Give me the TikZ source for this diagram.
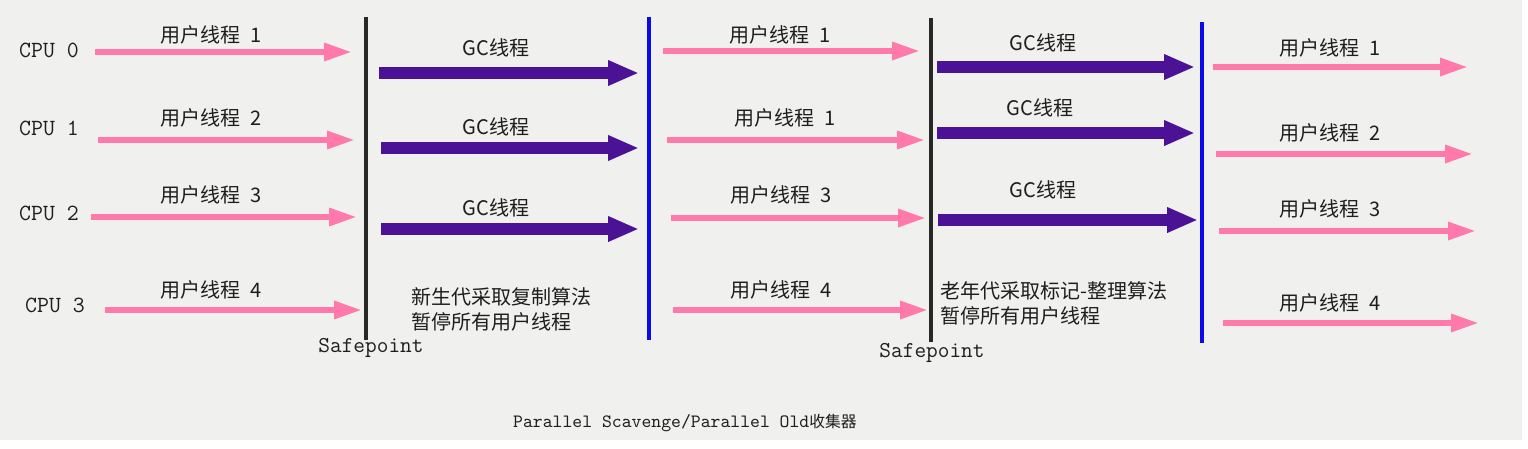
\documentclass[tikz,border=0pt]{standalone}
\usepackage{fontspec}
\usepackage{xcolor}
\usepackage{tikz}
\usetikzlibrary{arrows.meta, positioning}

\setmainfont{Noto Sans CJK SC}
\newfontfamily\cjkfont{Noto Sans CJK SC}

\definecolor{bggray}{RGB}{240,240,238}
\definecolor{userpink}{RGB}{255,122,170}
\definecolor{gcpurple}{RGB}{76,18,150}
\definecolor{safeblack}{RGB}{40,40,40}
\definecolor{endblue}{RGB}{10,10,235}
\definecolor{textdark}{RGB}{30,30,30}

\begin{document}
\begin{tikzpicture}[
    x=0.2mm, y=-0.2mm,
    every node/.style={text=textdark, inner sep=0pt},
    cpulabel/.style={font=\ttfamily\fontsize{13.2}{15}\selectfont},
    tlabel/.style={font=\cjkfont\fontsize{11.4}{13}\selectfont},
    notelabel/.style={font=\cjkfont\fontsize{11.4}{14.2}\selectfont, align=left, anchor=west},
    splabel/.style={font=\ttfamily\fontsize{12.9}{15}\selectfont},
    userarrow/.style={-{Triangle[length=5.6mm, width=3.4mm]}, line width=1.2mm, draw=userpink},
    gcarrow/.style={-{Triangle[length=6.2mm, width=4.7mm]}, line width=2.4mm, draw=gcpurple},
    safeline/.style={line width=0.8mm, draw=safeblack},
    endline/.style={line width=0.8mm, draw=endblue}
]

    % background
    \fill[bggray] (0,0) rectangle (1522,440);
    \useasboundingbox (0,0) rectangle (1528,448);

    % CPU labels
    \node[cpulabel] (cpu0) at (49,50) {CPU 0};
    \node[cpulabel] (cpu1) at (49,128) {CPU 1};
    \node[cpulabel] (cpu2) at (49,213) {CPU 2};
    \node[cpulabel] (cpu3) at (55,305) {CPU 3};

    % user threads before first safepoint
    \coordinate (u1s) at (95,52);   \coordinate (u1e) at (352,52);
    \coordinate (u2s) at (98,140);  \coordinate (u2e) at (355,140);
    \coordinate (u3s) at (91,217);  \coordinate (u3e) at (357,217);
    \coordinate (u4s) at (105,310); \coordinate (u4e) at (362,310);
    \draw[userarrow] (u1s) -- (u1e);
    \draw[userarrow] (u2s) -- (u2e);
    \draw[userarrow] (u3s) -- (u3e);
    \draw[userarrow] (u4s) -- (u4e);
    \node[tlabel] (u1l) at (211,35) {用户线程\hspace{0.5em}1};
    \node[tlabel] (u2l) at (211,118) {用户线程\hspace{0.5em}2};
    \node[tlabel] (u3l) at (211,195) {用户线程\hspace{0.5em}3};
    \node[tlabel] (u4l) at (211,290) {用户线程\hspace{0.5em}4};

    % first safepoint
    \coordinate (sp1t) at (366,17); \coordinate (sp1b) at (366,340);
    \draw[safeline] (sp1t) -- (sp1b);
    \node[splabel] (sp1) at (371,348) {Safepoint};

    % young generation GC threads
    \coordinate (g1s) at (379,73);  \coordinate (g1e) at (639,73);
    \coordinate (g2s) at (381,148); \coordinate (g2e) at (639,148);
    \coordinate (g3s) at (381,229); \coordinate (g3e) at (639,229);
    \draw[gcarrow] (g1s) -- (g1e);
    \draw[gcarrow] (g2s) -- (g2e);
    \draw[gcarrow] (g3s) -- (g3e);
    \node[tlabel] (g1l) at (496,48) {GC线程};
    \node[tlabel] (g2l) at (496,127) {GC线程};
    \node[tlabel] (g3l) at (496,208) {GC线程};
    \node[notelabel] (young) at (411,309) {新生代采取复制算法\\暂停所有用户线程};

    % end of young GC
    \coordinate (e1t) at (649,17); \coordinate (e1b) at (649,340);
    \draw[endline] (e1t) -- (e1b);

    % user threads before second safepoint
    \coordinate (v1s) at (663,51);  \coordinate (v1e) at (920,51);
    \coordinate (v2s) at (667,140); \coordinate (v2e) at (925,140);
    \coordinate (v3s) at (671,218); \coordinate (v3e) at (926,218);
    \coordinate (v4s) at (673,310); \coordinate (v4e) at (928,310);
    \draw[userarrow] (v1s) -- (v1e);
    \draw[userarrow] (v2s) -- (v2e);
    \draw[userarrow] (v3s) -- (v3e);
    \draw[userarrow] (v4s) -- (v4e);
    \node[tlabel] (v1l) at (780,35) {用户线程\hspace{0.5em}1};
    \node[tlabel] (v2l) at (785,118) {用户线程\hspace{0.5em}1};
    \node[tlabel] (v3l) at (781,195) {用户线程\hspace{0.5em}3};
    \node[tlabel] (v4l) at (781,290) {用户线程\hspace{0.5em}4};

    % second safepoint
    \coordinate (sp2t) at (931,18); \coordinate (sp2b) at (931,342);
    \draw[safeline] (sp2t) -- (sp2b);
    \node[splabel] (sp2) at (932,353) {Safepoint};

    % old generation GC threads
    \coordinate (h1s) at (937,67);  \coordinate (h1e) at (1195,67);
    \coordinate (h2s) at (937,133); \coordinate (h2e) at (1195,133);
    \coordinate (h3s) at (938,220); \coordinate (h3e) at (1198,220);
    \draw[gcarrow] (h1s) -- (h1e);
    \draw[gcarrow] (h2s) -- (h2e);
    \draw[gcarrow] (h3s) -- (h3e);
    \node[tlabel] (h1l) at (1043,43) {GC线程};
    \node[tlabel] (h2l) at (1040,108) {GC线程};
    \node[tlabel] (h3l) at (1043,190) {GC线程};
    \node[notelabel] (old) at (940,303) {老年代采取标记-整理算法\\暂停所有用户线程};

    % end of old GC
    \coordinate (e2t) at (1202,22); \coordinate (e2b) at (1202,343);
    \draw[endline] (e2t) -- (e2b);

    % user threads resumed
    \coordinate (w1s) at (1213,67);  \coordinate (w1e) at (1468,67);
    \coordinate (w2s) at (1216,154); \coordinate (w2e) at (1473,154);
    \coordinate (w3s) at (1219,231); \coordinate (w3e) at (1476,231);
    \coordinate (w4s) at (1223,323); \coordinate (w4e) at (1479,323);
    \draw[userarrow] (w1s) -- (w1e);
    \draw[userarrow] (w2s) -- (w2e);
    \draw[userarrow] (w3s) -- (w3e);
    \draw[userarrow] (w4s) -- (w4e);
    \node[tlabel] (w1l) at (1330,48) {用户线程\hspace{0.5em}1};
    \node[tlabel] (w2l) at (1330,133) {用户线程\hspace{0.5em}2};
    \node[tlabel] (w3l) at (1330,209) {用户线程\hspace{0.5em}3};
    \node[tlabel] (w4l) at (1330,303) {用户线程\hspace{0.5em}4};

    % caption
    \node (caption) at (685,423) {\ttfamily\fontsize{10.7}{12}\selectfont Parallel Scavenge/Parallel Old\cjkfont\fontsize{9}{12}\selectfont 收集器};

\end{tikzpicture}
\end{document}
